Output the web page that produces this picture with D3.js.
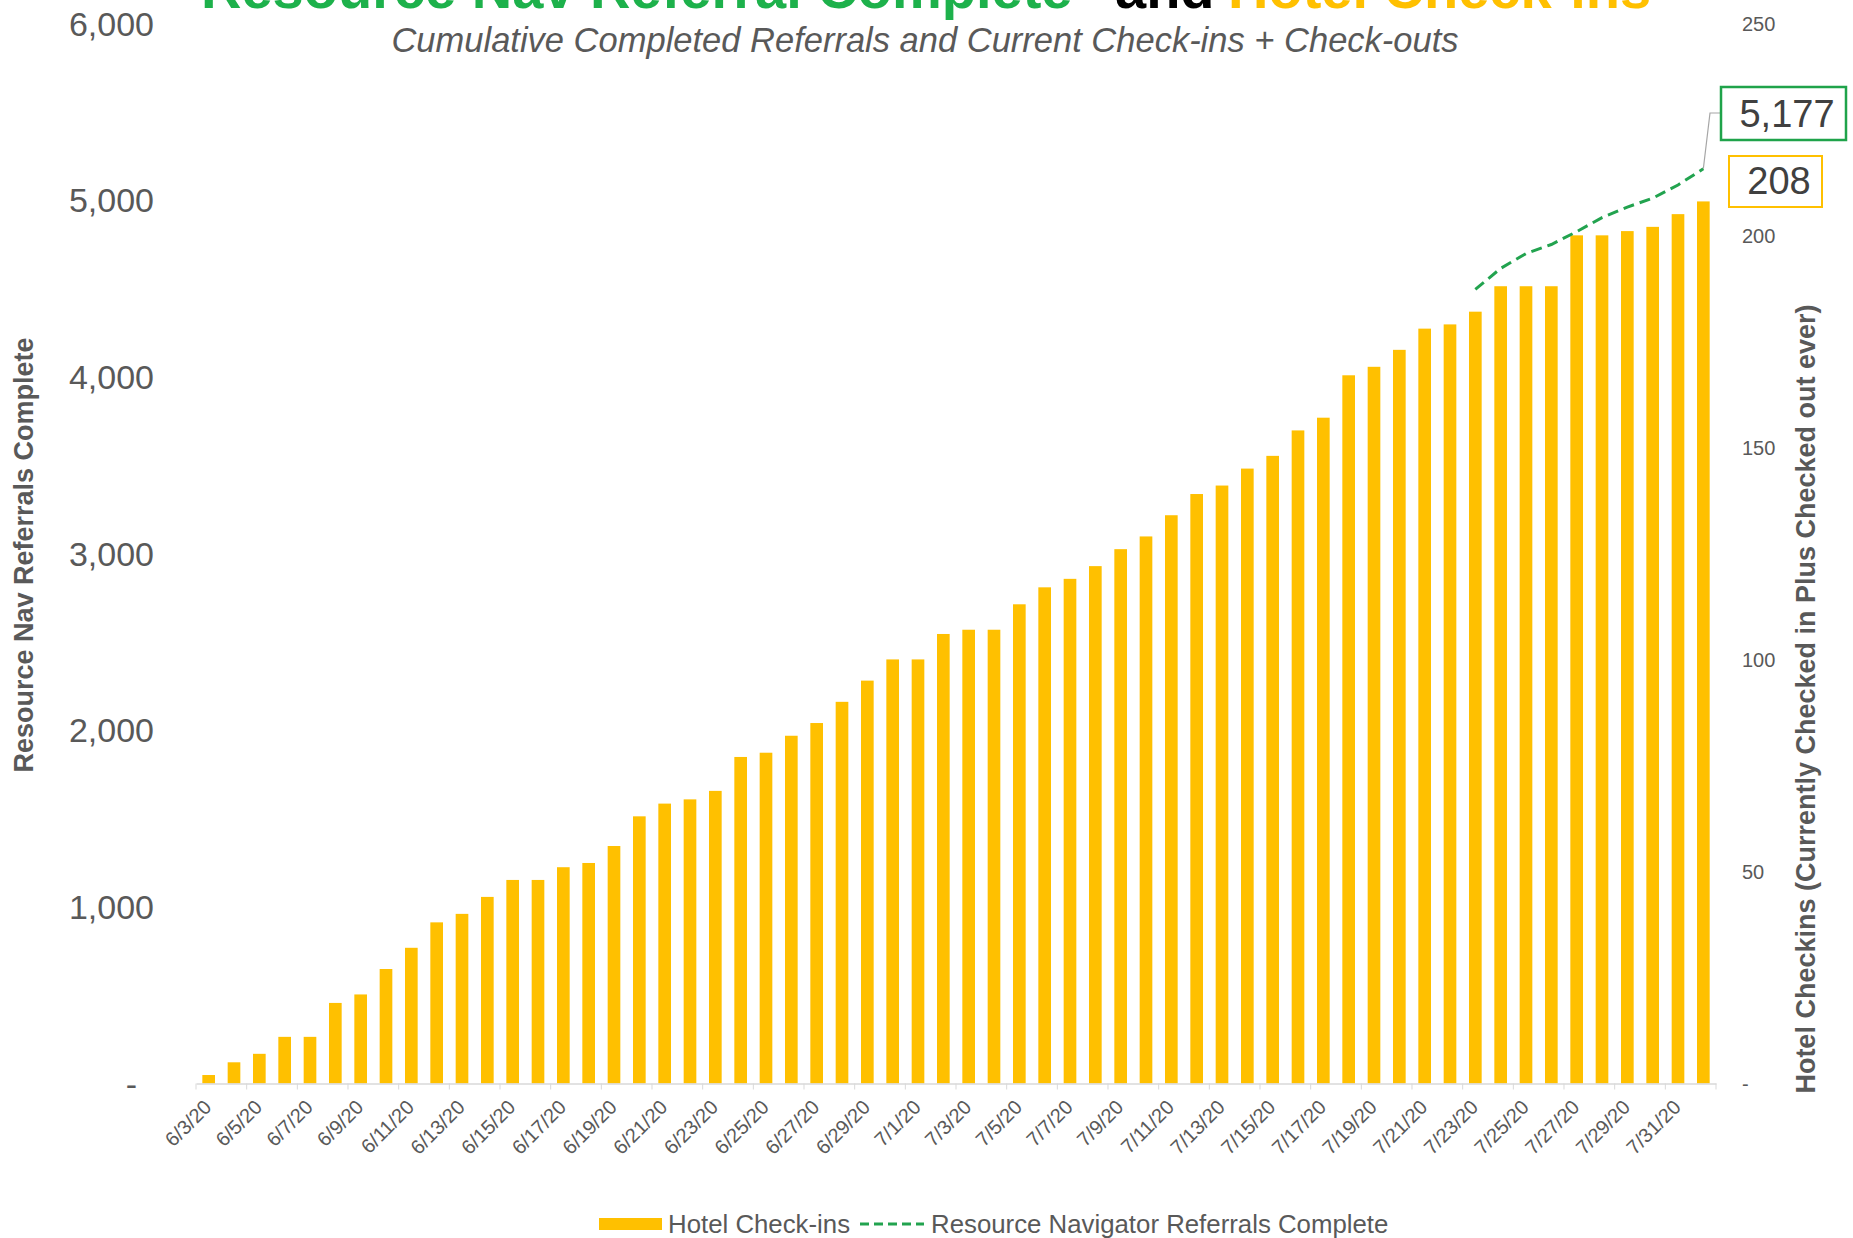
<!DOCTYPE html>
<meta charset="utf-8">
<style>
body { margin: 0; background: #fff; }
svg text { font-family: "Liberation Sans", Arial, sans-serif; }
</style>
<script src="https://d3js.org/d3.v7.min.js"></script>
<div id="chart"></div>
<script>
// categories (one per day)
var dates = ["6/3/20","6/4/20","6/5/20","6/6/20","6/7/20","6/8/20","6/9/20","6/10/20","6/11/20","6/12/20",
  "6/13/20","6/14/20","6/15/20","6/16/20","6/17/20","6/18/20","6/19/20","6/20/20","6/21/20","6/22/20",
  "6/23/20","6/24/20","6/25/20","6/26/20","6/27/20","6/28/20","6/29/20","6/30/20","7/1/20","7/2/20",
  "7/3/20","7/4/20","7/5/20","7/6/20","7/7/20","7/8/20","7/9/20","7/10/20","7/11/20","7/12/20",
  "7/13/20","7/14/20","7/15/20","7/16/20","7/17/20","7/18/20","7/19/20","7/20/20","7/21/20","7/22/20",
  "7/23/20","7/24/20","7/25/20","7/26/20","7/27/20","7/28/20","7/29/20","7/30/20","7/31/20","8/1/20"];

// hotel check-ins (right axis)
var checkins = [2,5,7,11,11,19,21,27,32,38,
  40,44,48,48,51,52,56,63,66,67,
  69,77,78,82,85,90,95,100,100,106,
  107,107,113,117,119,122,126,129,134,139,
  141,145,148,154,157,167,169,173,178,179,
  182,188,188,188,200,200,201,202,205,208];

// resource navigator referrals complete (left axis), only shown from 7/23
var refDates = ["7/23/20","7/24/20","7/25/20","7/26/20","7/27/20","7/28/20","7/29/20","7/30/20","7/31/20","8/1/20"];
var referrals = [4494,4613,4697,4748,4821,4900,4960,5010,5085,5177];

var leftTicks = [0,1000,2000,3000,4000,5000,6000];
var rightTicks = [0,50,100,150,200,250];

var W = 1853, H = 1238;
var grey = "#595959", gold = "#ffc000", green = "#22a34f";

var svg = d3.select("#chart").append("svg")
    .attr("width", W)
    .attr("height", H);

var x = d3.scaleBand()
    .domain(dates)
    .range([196, 1716])
    .paddingInner(0.5)
    .paddingOuter(0.25);

var yLeft = d3.scaleLinear().domain([0, 6000]).range([1083.5, 23.3]);
var yRight = d3.scaleLinear().domain([0, 250]).range([1083.5, 23.3]);

// bars
svg.append("g").selectAll("rect")
  .data(dates)
  .enter().append("rect")
    .attr("x", function(d) { return x(d); })
    .attr("y", function(d, i) { return yRight(checkins[i]); })
    .attr("width", x.bandwidth())
    .attr("height", function(d, i) { return yRight(0) - yRight(checkins[i]); })
    .attr("fill", gold);

// x axis
var xAxis = svg.append("g")
    .attr("transform", "translate(0," + yLeft(0) + ")")
    .call(d3.axisBottom(x)
      .tickValues(dates.filter(function(d, i) { return i % 2 == 0; }))
      .tickSize(6)
      .tickSizeOuter(0));
xAxis.select(".domain").attr("stroke", "#d9d9d9").attr("stroke-width", 1.5);
xAxis.selectAll(".tick line")
    .attr("stroke", "#d9d9d9")
    .attr("x1", -x.step() / 2)
    .attr("x2", -x.step() / 2);
xAxis.append("line")
    .attr("x1", 1716).attr("x2", 1716)
    .attr("y1", 0).attr("y2", 6)
    .attr("stroke", "#d9d9d9");
xAxis.selectAll(".tick text")
    .attr("fill", grey)
    .style("font-size", "20px")
    .style("text-anchor", "end")
    .attr("y", 0)
    .attr("dy", 0)
    .attr("transform", "translate(4,25) rotate(-45)");

// left axis labels
svg.append("g").selectAll("text")
  .data(leftTicks)
  .enter().append("text")
    .attr("x", function(d) { return d == 0 ? 137 : 154; })
    .attr("y", function(d) { return yLeft(d); })
    .attr("dy", "0.36em")
    .attr("text-anchor", "end")
    .attr("fill", grey)
    .style("font-size", "34px")
    .text(function(d) { return d == 0 ? "-" : d3.format(",")(d); });

// right axis labels
svg.append("g").selectAll("text")
  .data(rightTicks)
  .enter().append("text")
    .attr("x", 1742)
    .attr("y", function(d) { return yRight(d); })
    .attr("dy", "0.36em")
    .attr("fill", grey)
    .style("font-size", "20px")
    .text(function(d) { return d == 0 ? "-" : d; });

// axis titles
svg.append("text")
    .attr("transform", "translate(33,555) rotate(-90)")
    .attr("text-anchor", "middle")
    .attr("fill", grey)
    .style("font-size", "27px")
    .style("font-weight", "bold")
    .text("Resource Nav Referrals Complete");

svg.append("text")
    .attr("transform", "translate(1815,699) rotate(-90)")
    .attr("text-anchor", "middle")
    .attr("fill", grey)
    .style("font-size", "27px")
    .style("font-weight", "bold")
    .text("Hotel Checkins (Currently Checked in Plus Checked out ever)");

// referrals line
var line = d3.line()
    .x(function(d, i) { return x(refDates[i]) + x.bandwidth() / 2; })
    .y(function(d) { return yLeft(d); });

svg.append("path")
    .datum(referrals)
    .attr("d", line)
    .attr("fill", "none")
    .attr("stroke", green)
    .attr("stroke-width", 3)
    .attr("stroke-dasharray", "11,6");

// end-of-series annotations
var lastX = x(refDates[refDates.length - 1]) + x.bandwidth() / 2;
var lastY = yLeft(referrals[referrals.length - 1]);
svg.append("polyline")
    .attr("points", [[lastX, lastY], [1710, 113], [1721, 113]].join(" "))
    .attr("fill", "none")
    .attr("stroke", "#a6a6a6")
    .attr("stroke-width", 1.2);

svg.append("rect")
    .attr("x", 1721).attr("y", 87)
    .attr("width", 125).attr("height", 53)
    .attr("fill", "#fff")
    .attr("stroke", "#1fa34a")
    .attr("stroke-width", 2.5);
svg.append("text")
    .attr("x", 1787).attr("y", 127)
    .attr("text-anchor", "middle")
    .attr("fill", "#404040")
    .style("font-size", "38px")
    .text(d3.format(",")(referrals[referrals.length - 1]));

svg.append("rect")
    .attr("x", 1729).attr("y", 156)
    .attr("width", 93).attr("height", 51)
    .attr("fill", "#fff")
    .attr("stroke", gold)
    .attr("stroke-width", 2);
svg.append("text")
    .attr("x", 1779).attr("y", 194)
    .attr("text-anchor", "middle")
    .attr("fill", "#404040")
    .style("font-size", "38px")
    .text(checkins[checkins.length - 1]);

// title (top part is cut off in the original)
var title = svg.append("text")
    .attr("y", 8)
    .style("font-size", "56px")
    .style("font-weight", "bold");
title.append("tspan").attr("x", 201).attr("fill", "#1db14b").text("Resource Nav Referral Complete");
title.append("tspan").attr("x", 1115).attr("fill", "#000").text("and");
title.append("tspan").attr("x", 1228).attr("fill", gold).text("Hotel Check-ins");

svg.append("text")
    .attr("x", 925).attr("y", 52)
    .attr("text-anchor", "middle")
    .attr("fill", grey)
    .style("font-size", "34.5px")
    .style("font-style", "italic")
    .text("Cumulative Completed Referrals and Current Check-ins + Check-outs");

// legend
var legend = svg.append("g").style("font-size", "25.8px");
legend.append("rect")
    .attr("x", 599).attr("y", 1218)
    .attr("width", 63).attr("height", 12)
    .attr("fill", gold);
legend.append("text")
    .attr("x", 668).attr("y", 1233)
    .attr("fill", grey)
    .text("Hotel Check-ins");
legend.append("line")
    .attr("x1", 860).attr("x2", 924)
    .attr("y1", 1224).attr("y2", 1224)
    .attr("stroke", green)
    .attr("stroke-width", 3)
    .attr("stroke-dasharray", "9,5");
legend.append("text")
    .attr("x", 931).attr("y", 1233)
    .attr("fill", grey)
    .text("Resource Navigator Referrals Complete");
</script>
